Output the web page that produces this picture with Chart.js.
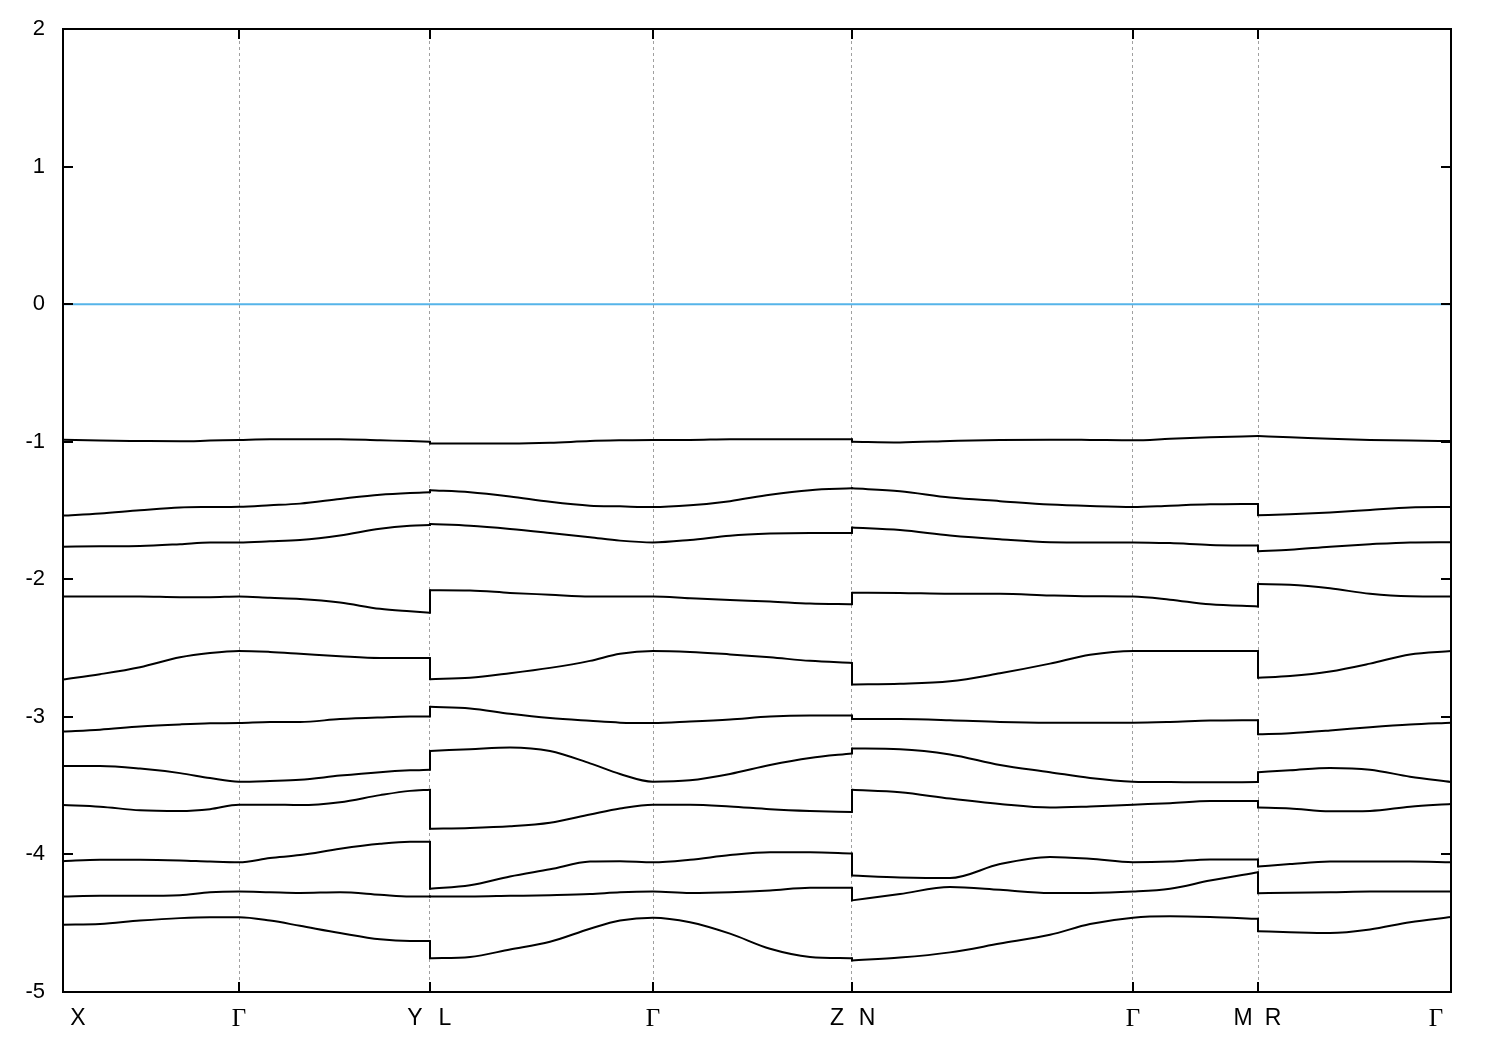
<!DOCTYPE html>
<html><head><meta charset="utf-8">
<script src="https://cdn.jsdelivr.net/npm/chart.js@4"></script>
<style>html,body{margin:0;padding:0;background:#fff;}#wrap{width:1500px;height:1050px;}</style>
</head><body><div id="wrap"><canvas id="c" width="1500" height="1050"></canvas></div>
<script>
// k-path coordinate (duplicated at the discontinuities Y|L, Z|N, M|R)
const kpath = [0,0.37,0.77,1.17,1.47,1.76,2.07,2.37,2.77,3.17,3.47,3.67,
  3.67,4.07,4.47,4.87,5.27,5.57,5.90,6.27,6.67,7.07,7.47,7.89,
  7.89,8.37,8.87,9.37,9.87,10.27,10.70,11.07,11.47,11.95,
  11.95,12.27,12.67,13.07,13.47,13.88];

const band01 = [-0.985,-0.992,-0.995,-0.997,-0.992,-0.987,-0.982,-0.982,-0.982,-0.990,-0.995,-1.000,
  -1.013,-1.013,-1.013,-1.008,-0.995,-0.990,-0.987,-0.987,-0.982,-0.982,-0.982,-0.982,
  -1.000,-1.005,-0.995,-0.987,-0.985,-0.987,-0.990,-0.979,-0.967,-0.959,
  -0.959,-0.967,-0.979,-0.987,-0.992,-0.995];
const band02 = [-1.537,-1.521,-1.498,-1.478,-1.475,-1.473,-1.462,-1.450,-1.416,-1.385,-1.372,-1.367,
  -1.352,-1.367,-1.398,-1.437,-1.465,-1.470,-1.475,-1.462,-1.432,-1.385,-1.352,-1.339,
  -1.339,-1.360,-1.406,-1.432,-1.457,-1.468,-1.475,-1.465,-1.455,-1.452,
  -1.534,-1.527,-1.514,-1.496,-1.478,-1.475];
const band03 = [-1.763,-1.760,-1.758,-1.745,-1.732,-1.732,-1.724,-1.714,-1.681,-1.632,-1.611,-1.606,
  -1.599,-1.611,-1.634,-1.663,-1.694,-1.719,-1.732,-1.714,-1.683,-1.668,-1.663,-1.663,
  -1.624,-1.642,-1.681,-1.709,-1.730,-1.732,-1.732,-1.737,-1.750,-1.755,
  -1.796,-1.786,-1.763,-1.745,-1.732,-1.730];
const band04 = [-2.125,-2.125,-2.125,-2.130,-2.130,-2.125,-2.135,-2.143,-2.169,-2.215,-2.233,-2.243,
  -2.079,-2.081,-2.099,-2.112,-2.125,-2.125,-2.125,-2.138,-2.151,-2.161,-2.176,-2.182,
  -2.097,-2.099,-2.105,-2.105,-2.117,-2.123,-2.125,-2.148,-2.182,-2.197,
  -2.035,-2.040,-2.066,-2.105,-2.123,-2.125];
const band05 = [-2.729,-2.690,-2.639,-2.567,-2.536,-2.521,-2.528,-2.541,-2.559,-2.572,-2.572,-2.572,
  -2.726,-2.716,-2.683,-2.644,-2.593,-2.541,-2.521,-2.528,-2.546,-2.567,-2.593,-2.608,
  -2.765,-2.760,-2.742,-2.683,-2.613,-2.549,-2.521,-2.521,-2.521,-2.521,
  -2.716,-2.703,-2.670,-2.613,-2.546,-2.521];
const band06 = [-3.106,-3.093,-3.070,-3.055,-3.047,-3.045,-3.037,-3.037,-3.016,-3.004,-2.998,-2.998,
  -2.927,-2.939,-2.978,-3.009,-3.029,-3.042,-3.045,-3.034,-3.019,-2.998,-2.991,-2.991,
  -3.016,-3.016,-3.024,-3.037,-3.042,-3.042,-3.042,-3.037,-3.027,-3.024,
  -3.127,-3.119,-3.099,-3.075,-3.055,-3.042];
const band07 = [-3.358,-3.358,-3.376,-3.409,-3.445,-3.471,-3.466,-3.458,-3.427,-3.402,-3.389,-3.384,
  -3.248,-3.235,-3.222,-3.248,-3.338,-3.415,-3.471,-3.461,-3.415,-3.350,-3.299,-3.266,
  -3.230,-3.235,-3.273,-3.350,-3.402,-3.445,-3.471,-3.474,-3.476,-3.474,
  -3.402,-3.389,-3.371,-3.384,-3.435,-3.474];
const band08 = [-3.641,-3.653,-3.679,-3.684,-3.671,-3.638,-3.638,-3.641,-3.620,-3.569,-3.538,-3.530,
  -3.813,-3.808,-3.796,-3.770,-3.710,-3.666,-3.638,-3.638,-3.651,-3.671,-3.684,-3.692,
  -3.530,-3.548,-3.594,-3.633,-3.659,-3.651,-3.638,-3.628,-3.612,-3.612,
  -3.659,-3.666,-3.687,-3.684,-3.653,-3.633];
const band09 = [-4.049,-4.039,-4.039,-4.044,-4.052,-4.057,-4.026,-4.005,-3.959,-3.923,-3.908,-3.908,
  -4.249,-4.224,-4.160,-4.108,-4.052,-4.049,-4.057,-4.039,-4.005,-3.985,-3.985,-3.993,
  -4.154,-4.167,-4.172,-4.070,-4.018,-4.031,-4.057,-4.052,-4.036,-4.036,
  -4.088,-4.070,-4.052,-4.052,-4.052,-4.057];
const band10 = [-4.306,-4.301,-4.301,-4.296,-4.275,-4.270,-4.275,-4.280,-4.275,-4.293,-4.306,-4.306,
  -4.306,-4.306,-4.301,-4.296,-4.288,-4.275,-4.270,-4.280,-4.275,-4.262,-4.242,-4.242,
  -4.334,-4.288,-4.237,-4.257,-4.280,-4.280,-4.270,-4.249,-4.190,-4.129,
  -4.283,-4.278,-4.275,-4.270,-4.270,-4.270];
const band11 = [-4.511,-4.506,-4.481,-4.463,-4.457,-4.457,-4.481,-4.519,-4.571,-4.617,-4.630,-4.630,
  -4.755,-4.745,-4.691,-4.635,-4.540,-4.481,-4.460,-4.493,-4.576,-4.686,-4.745,-4.755,
  -4.771,-4.750,-4.712,-4.648,-4.584,-4.506,-4.460,-4.450,-4.455,-4.468,
  -4.558,-4.565,-4.571,-4.545,-4.493,-4.455];

const fermiLevel = 0;
// high-symmetry points: positions and labels (two labels at a discontinuity)
const symPos    = [0, 1.76, 3.67, 5.90, 7.89, 10.70, 11.95, 13.88];
const labelPos  = [0, 1.76, 3.67, 3.67, 5.90, 7.89, 7.89, 10.70, 11.95, 11.95, 13.88];
const labelText = ['X', 'Γ', 'Y', 'L', 'Γ', 'Z', 'N', 'Γ', 'M', 'R', 'Γ'];
const labelSide = [1, 0, -1, 1, 0, -1, 1, 0, -1, 1, -1];
const yTickValues = [-5, -4, -3, -2, -1, 0, 1, 2];
const yTickLabels = ['-5', '-4', '-3', '-2', '-1', '0', '1', '2'];

const bands = [band01, band02, band03, band04, band05, band06, band07, band08, band09, band10, band11];
const kMin = symPos[0], kMax = symPos[symPos.length - 1];

// split the path into continuous segments at duplicated k values
const segBounds = [0];
kpath.forEach((k, i) => { if (i > 0 && k === kpath[i - 1]) segBounds.push(i); });
segBounds.push(kpath.length);

const lineStyle = {borderColor: '#000', borderWidth: 2, pointRadius: 0, fill: false, borderCapStyle: 'round', borderJoinStyle: 'round'};
const datasets = [];
bands.forEach(b => {
  for (let s = 0; s < segBounds.length - 1; s++) {
    const pts = [];
    for (let i = segBounds[s]; i < segBounds[s + 1]; i++) pts.push({x: kpath[i], y: b[i]});
    datasets.push(Object.assign({data: pts, cubicInterpolationMode: 'monotone'}, lineStyle));
    if (s > 0) {
      const j = segBounds[s];
      datasets.push(Object.assign({data: [{x: kpath[j - 1], y: b[j - 1]}, {x: kpath[j], y: b[j]}], tension: 0}, lineStyle));
    }
  }
});
datasets.push({
  data: [{x: kMin, y: fermiLevel}, {x: kMax, y: fermiLevel}],
  borderColor: '#56B4E9', borderWidth: 2, pointRadius: 0, fill: false
});

const framePlugin = {
  id: 'frame',
  afterDatasetsDraw(chart) {
    const ctx = chart.ctx, a = chart.chartArea;
    const xs = chart.scales.x, ys = chart.scales.y;
    ctx.save();
    ctx.strokeStyle = '#000'; ctx.lineWidth = 2;
    ctx.strokeRect(a.left, a.top, a.right - a.left, a.bottom - a.top);
    ctx.beginPath();
    yTickValues.forEach(v => {
      const y = Math.round(ys.getPixelForValue(v));
      ctx.moveTo(a.left, y); ctx.lineTo(a.left + 10, y);
      ctx.moveTo(a.right, y); ctx.lineTo(a.right - 10, y);
    });
    symPos.forEach(v => {
      const x = Math.round(xs.getPixelForValue(v));
      ctx.moveTo(x, a.bottom); ctx.lineTo(x, a.bottom - 10);
      ctx.moveTo(x, a.top); ctx.lineTo(x, a.top + 10);
    });
    ctx.stroke();
    ctx.fillStyle = '#000';
    ctx.textBaseline = 'middle';
    ctx.textAlign = 'right';
    ctx.font = '22px "Liberation Sans"';
    yTickValues.forEach((v, i) => {
      ctx.fillText(yTickLabels[i], a.left - 18, ys.getPixelForValue(v));
    });
    ctx.textAlign = 'center';
    labelText.forEach((t, i) => {
      const x = xs.getPixelForValue(labelPos[i]) + labelSide[i] * 15;
      ctx.font = t === 'Γ' ? '25px "Liberation Serif"' : '23px "Liberation Sans"';
      ctx.fillText(t, x, a.bottom + 27);
    });
    ctx.restore();
  }
};

new Chart(document.getElementById('c'), {
  type: 'line',
  data: {datasets},
  options: {
    responsive: false, animation: false, devicePixelRatio: 1,
    layout: {padding: {top: 29, right: 49, left: 0, bottom: 0}},
    plugins: {legend: {display: false}, tooltip: {enabled: false}},
    scales: {
      x: {
        type: 'linear', min: kMin, max: kMax,
        afterFit(s) { s.height = 58; },
        afterBuildTicks(s) { s.ticks = symPos.map(v => ({value: v})); },
        ticks: {display: false},
        grid: {display: true, color: '#a0a0a0', lineWidth: 1, drawTicks: false},
        border: {display: false, dash: [3, 3]}
      },
      y: {
        min: -5, max: 2,
        afterFit(s) { s.width = 63; },
        afterBuildTicks(s) { s.ticks = yTickValues.map(v => ({value: v})); },
        ticks: {display: false},
        grid: {display: false, drawTicks: false},
        border: {display: false}
      }
    }
  },
  plugins: [framePlugin]
});
</script></body></html>
